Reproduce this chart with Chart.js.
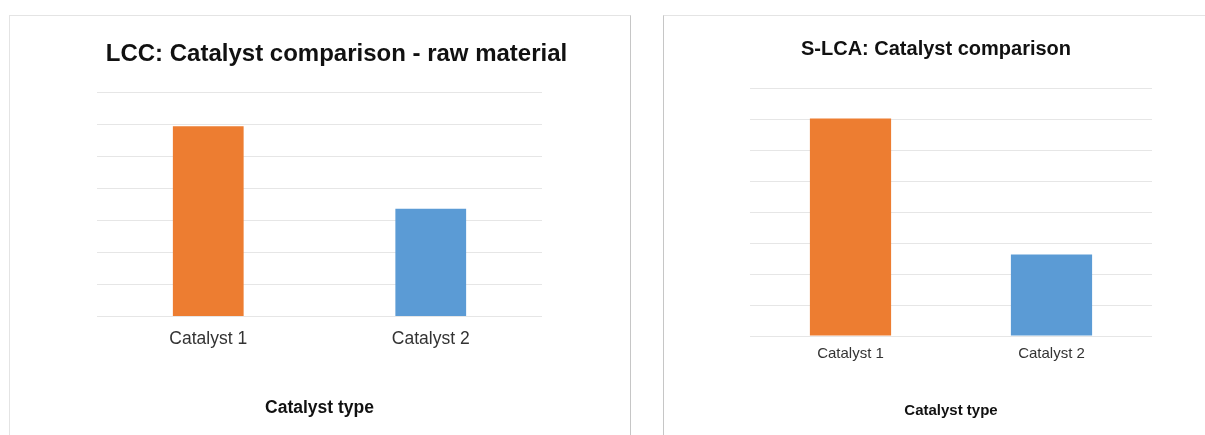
<!DOCTYPE html>
<html>
<head>
<meta charset="utf-8">
<title>Catalyst comparison</title>
<script src="https://cdn.jsdelivr.net/npm/chart.js@4.4.1/dist/chart.umd.min.js"></script>
<style>
body { margin: 0; background: #fff; width: 1205px; height: 435px; overflow: hidden; position: relative; }
.panel { position: absolute; top: 15px; height: 440px; border-top: 1px solid #e4e4e4; box-sizing: border-box; }
#p1 { left: 9px; width: 622px; border-left: 1px solid #e4e4e4; border-right: 1px solid #c6c6c6; }
#p2 { left: 663px; width: 560px; border-left: 1px solid #c6c6c6; }
.box { position: absolute; top: 0; height: 435px; }
#b1 { left: 0; width: 640px; }
#b2 { left: 640px; width: 565px; }
</style>
</head>
<body>
<div class="panel" id="p1"></div>
<div class="panel" id="p2"></div>
<div class="box" id="b1"><canvas id="lccChart"></canvas></div>
<div class="box" id="b2"><canvas id="slcaChart"></canvas></div>
<script>
// values (no axis labels, units = gridline steps)
var categories = ['Catalyst 1', 'Catalyst 2'];
var lccValues = [5.93, 3.36];
var slcaValues = [7.02, 2.63];
var axisTitle = 'Catalyst type';

var barColors = ['#ED7D31', '#5B9BD5'];
var fontFamily = '"Liberation Sans", Arial, sans-serif';

function makeChart(id, title, values, o) {
    return new Chart(document.getElementById(id), {
        type: 'bar',
        data: {
            labels: categories,
            datasets: [{
                data: values,
                backgroundColor: barColors,
                borderWidth: 0,
                categoryPercentage: 1,
                barPercentage: o.barPct
            }]
        },
        options: {
            responsive: true,
            maintainAspectRatio: false,
            animation: false,
            layout: { padding: { left: o.padLeft, right: o.padRight, top: 0, bottom: o.padBottom } },
            plugins: {
                legend: { display: false },
                tooltip: { enabled: false },
                title: {
                    display: true,
                    text: title,
                    color: '#111',
                    font: { family: fontFamily, size: o.titleSize, weight: 'bold' },
                    padding: { top: o.titleTop, bottom: o.titleBottom }
                }
            },
            scales: {
                x: {
                    grid: { display: false, drawTicks: false },
                    border: { display: false },
                    ticks: { color: '#333', padding: o.tickPad, font: { family: fontFamily, size: o.labelSize } },
                    title: {
                        display: true,
                        text: axisTitle,
                        color: '#111',
                        font: { family: fontFamily, size: o.labelSize, weight: 'bold' },
                        padding: { top: o.axisTitleTop, bottom: 0 }
                    }
                },
                y: {
                    position: o.yPos,
                    min: 0,
                    max: o.yMax,
                    ticks: { display: false, stepSize: 1 },
                    grid: { color: '#e6e6e6', drawTicks: false, lineWidth: 1 },
                    border: { display: false },
                    afterFit: function (scale) { scale.width = o.yWidth; }
                }
            }
        }
    });
}

makeChart('lccChart', 'LCC: Catalyst comparison - raw material', lccValues, {
    barPct: 0.318, padLeft: 97, padRight: 64, padBottom: 16.8, yPos: 'right', yWidth: 34, yMax: 7,
    titleSize: 24, titleTop: 39.6, titleBottom: 23.6,
    labelSize: 17.5, tickPad: 11.8, axisTitleTop: 36
});

makeChart('slcaChart', 'S-LCA: Catalyst comparison', slcaValues, {
    barPct: 0.404, padLeft: 80, padRight: 53, padBottom: 15, yPos: 'left', yWidth: 30, yMax: 8,
    titleSize: 20, titleTop: 37.5, titleBottom: 26.5,
    labelSize: 15, tickPad: 9, axisTitleTop: 30
});
</script>
</body>
</html>
